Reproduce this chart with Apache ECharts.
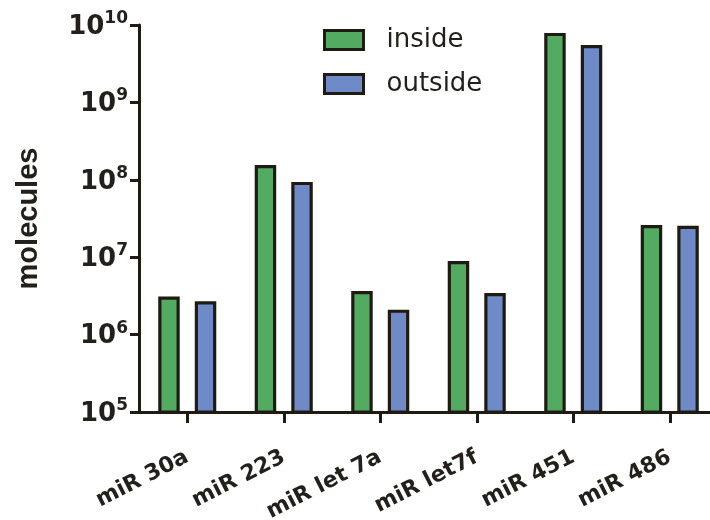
<!DOCTYPE html>
<html>
<head>
<meta charset="utf-8">
<script src="https://cdn.jsdelivr.net/npm/echarts@6/dist/echarts.min.js"></script>
<style>html,body{margin:0;padding:0;background:#fff;}#c{width:710px;height:520px;}</style>
</head>
<body>
<div id="c"></div>
<script>
var categories = ['miR 30a', 'miR 223', 'miR let 7a', 'miR let7f', 'miR 451', 'miR 486'];
var insideValues = [3.1e6, 1.55e8, 3.65e6, 8.9e6, 7.9e9, 2.6e7];
var outsideValues = [2.7e6, 9.4e7, 2.1e6, 3.45e6, 5.5e9, 2.55e7];
var seriesNames = ['inside', 'outside'];
var yMin = 1e5, yMax = 1e10;

var dark = '#201b12';
var chart = echarts.init(document.getElementById('c'), null, {renderer: 'canvas'});
chart.setOption({
  backgroundColor: '#ffffff',
  animation: false,
  grid: {left: 139, right: -8, top: 25, bottom: 108, containLabel: false, outerBoundsMode: 'none'},
  legend: {
    orient: 'vertical',
    left: 323, top: 27, padding: 0,
    icon: 'rect',
    itemWidth: 39, itemHeight: 19, itemGap: 18,
    itemStyle: {borderColor: dark, borderWidth: 3},
    textStyle: {fontFamily: 'DejaVu Sans', fontSize: 26, color: '#231f1a', lineHeight: 24, padding: [0, 0, 0, 18]},
    data: seriesNames
  },
  xAxis: {
    type: 'category',
    data: categories,
    axisLine: {lineStyle: {color: dark, width: 3}},
    axisTick: {show: true, alignWithLabel: true, length: 11, lineStyle: {color: dark, width: 3}},
    axisLabel: {rotate: 27, margin: 44, interval: 0, fontFamily: 'DejaVu Sans', fontWeight: 'bold', fontSize: 22, color: '#231f1a'}
  },
  yAxis: {
    type: 'log', logBase: 10, min: yMin, max: yMax,
    name: 'molecules', nameLocation: 'middle', nameRotate: 90, nameGap: 96,
    nameTextStyle: {fontFamily: 'Liberation Sans', fontWeight: 'bold', fontSize: 29, color: '#231f1a'},
    axisLine: {show: true, lineStyle: {color: dark, width: 3}},
    axisTick: {show: true, length: 9, lineStyle: {color: dark, width: 3}},
    splitLine: {show: false},
    axisLabel: {
      margin: 11,
      formatter: function (v) { return '{b|10}{s|' + Math.round(Math.log10(v)) + '}'; },
      rich: {
        b: {fontFamily: 'DejaVu Sans', fontWeight: 'bold', fontSize: 26, color: '#231f1a', lineHeight: 30, verticalAlign: 'bottom'},
        s: {fontFamily: 'DejaVu Sans', fontWeight: 'bold', fontSize: 17, color: '#231f1a', lineHeight: 17, verticalAlign: 'top'}
      }
    }
  },
  series: [
    {name: seriesNames[0], type: 'bar', data: insideValues, barWidth: 21.5, barGap: '70%',
     itemStyle: {color: '#53ab62', borderColor: dark, borderWidth: 3.2}},
    {name: seriesNames[1], type: 'bar', data: outsideValues, barWidth: 21.5, barGap: '70%',
     itemStyle: {color: '#6f8bc7', borderColor: dark, borderWidth: 3.2}}
  ]
});
</script>
</body>
</html>
